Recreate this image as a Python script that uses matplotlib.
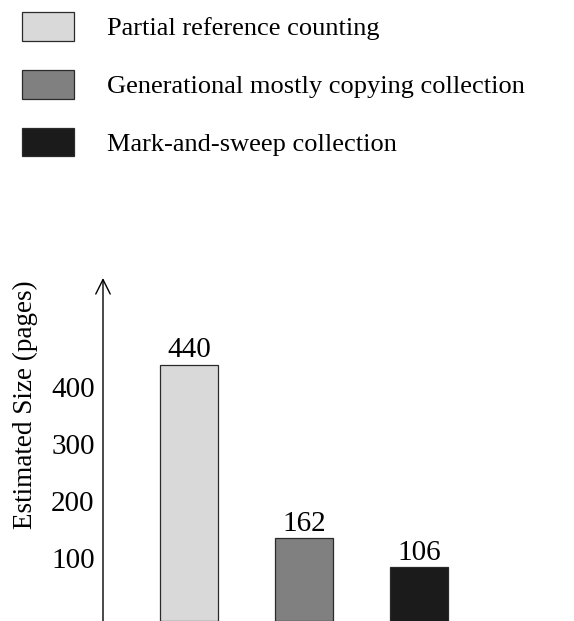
import matplotlib
matplotlib.use("Agg")
import matplotlib.pyplot as plt

plt.rcParams["font.family"] = ["Liberation Serif", "DejaVu Serif"]

# Data
methods = [
    "Partial reference counting",
    "Generational mostly copying collection",
    "Mark-and-sweep collection",
]
sizes = [440, 162, 106]          # labelled values
drawn_heights = [439, 135, 84]   # bar heights as drawn in the original figure
colors = ["#d9d9d9", "#808080", "#1b1b1b"]
yticks = [100, 200, 300, 400]

fig = plt.figure(figsize=(5.74, 6.21), dpi=100)
W, H = 574, 621

# Axes placed in pixel terms
left, right, top, bottom = 103, 574, 278, 621
ax = fig.add_axes([left / W, 1 - bottom / H, (right - left) / W, (bottom - top) / H])

y_lo, y_hi = -10.5, 591
ax.set_ylim(y_lo, y_hi)
ax.set_xlim(-0.748, 3.35)

x = range(len(methods))
bars = ax.bar(
    x,
    [h - y_lo for h in drawn_heights],
    bottom=y_lo,
    width=0.504,
    color=colors,
    edgecolor="#2a2a2a",
    linewidth=0.9,
    label=methods,
)
ax.bar_label(bars, labels=[str(s) for s in sizes], padding=1, fontsize=21)

for s in ["top", "right", "bottom", "left"]:
    ax.spines[s].set_visible(False)

# y axis with arrow head
ax.annotate(
    "",
    xy=(0, 1), xycoords="axes fraction",
    xytext=(0, 0), textcoords="axes fraction",
    arrowprops=dict(arrowstyle="->", lw=1.0, color="black", mutation_scale=26,
                    shrinkA=0, shrinkB=0),
)

ax.set_yticks(yticks)
ax.set_yticklabels([str(t) for t in yticks], fontsize=21)
ax.tick_params(axis="y", length=0, pad=6)
ax.set_xticks([])
ax.set_ylabel("Estimated Size (pages)", fontsize=19.5)
ax.yaxis.set_label_coords(-0.138, 0.63)

fig.legend(
    handles=bars.patches,
    labels=methods,
    loc="upper left",
    bbox_to_anchor=(22 / W, 1 - 12 / H),
    frameon=False,
    fontsize=19,
    handlelength=1.97,
    handleheight=1.3,
    handletextpad=1.25,
    labelspacing=1.1,
    borderpad=0,
    borderaxespad=0,
)

fig.savefig("out.png", dpi=100)
